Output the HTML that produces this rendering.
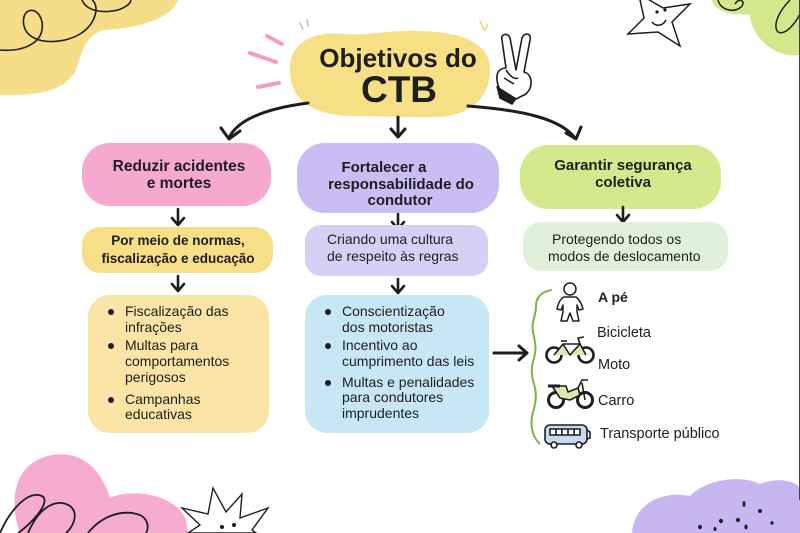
<!DOCTYPE html>
<html><head><meta charset="utf-8">
<style>
html,body{margin:0;padding:0;background:#fff;}
body{width:800px;height:533px;overflow:hidden;}
svg{display:block;}
text{font-family:"Liberation Sans","DejaVu Sans",sans-serif;fill:#1e1e1e;}
.b{font-weight:bold;}
</style></head>
<body>
<svg width="800" height="533" viewBox="0 0 800 533" xmlns="http://www.w3.org/2000/svg">
<!-- decorations top-left -->
<path d="M0,0 L178,0 C172,18 140,28 105,30 C85,34 82,52 76,70 C66,90 40,96 0,95 Z" fill="#f6dd8a"/>
<path d="M0,50 C25,52 45,42 42,22 C38,4 20,8 24,26 C28,44 60,46 80,34 C96,24 100,6 92,0 M82,0 C86,10 100,14 118,10 C130,6 132,0 130,0" fill="none" stroke="#1e1e1e" stroke-width="1.6"/>
<!-- top-right -->
<path d="M712,0 L770,0 C768,12 752,16 735,14 C720,12 712,6 712,0 Z" fill="#d3e88b"/>
<path d="M752,0 L800,0 L800,55 C780,58 760,45 752,25 C748,12 750,4 752,0 Z" fill="#d3e88b"/>
<path d="M718,0 C720,10 735,14 742,6 C746,0 738,-2 735,4 M790,0 C780,10 772,25 778,32 C786,36 796,22 800,14" fill="none" stroke="#1e1e1e" stroke-width="1.5"/>
<path d="M640,0 L646,-2 L663,8 L690,4 L672,22 L680,46 L658,32 L628,34 L644,18 Z" fill="#fff" stroke="#1e1e1e" stroke-width="1.5"/>
<circle cx="657" cy="12" r="1.6" fill="#1e1e1e"/><circle cx="665" cy="10" r="1.6" fill="#1e1e1e"/>
<path d="M652,22 C656,27 663,26 666,20" fill="none" stroke="#1e1e1e" stroke-width="1.5"/>
<!-- bottom-left -->
<path d="M20,533 C8,500 14,462 52,455 C84,450 102,472 110,498 C132,488 176,494 186,520 L188,533 Z" fill="#f6acd0"/>
<path d="M0,533 C10,510 28,490 42,496 C52,502 30,525 18,533 M28,533 C40,505 58,498 70,506 C80,514 72,528 66,533 M88,533 C100,518 120,508 140,515 C150,520 148,530 146,533" fill="none" stroke="#1e1e1e" stroke-width="1.8"/>
<path d="M182,508 L208,514 L213,488 L226,512 L242,494 L240,518 L268,508 L252,530 L256,533 L188,533 L200,525 Z" fill="#fff" stroke="#1e1e1e" stroke-width="1.4"/>
<circle cx="222" cy="527" r="2" fill="#1e1e1e"/><circle cx="234" cy="525" r="2" fill="#1e1e1e"/>
<!-- bottom-right -->
<path d="M632,533 C634,505 660,490 690,496 C705,480 740,474 760,484 C780,476 800,482 800,490 L800,533 Z" fill="#c8b6f0"/>
<g fill="#1e1e1e"><ellipse cx="744" cy="504" rx="1.5" ry="3"/><ellipse cx="760" cy="511" rx="2" ry="2"/><ellipse cx="738" cy="520" rx="2" ry="2"/><ellipse cx="721" cy="521" rx="2" ry="2.2"/><ellipse cx="746" cy="527" rx="1.6" ry="2.5"/><ellipse cx="700" cy="527" rx="2" ry="2"/><ellipse cx="715" cy="529" rx="1.5" ry="2"/><ellipse cx="772" cy="523" rx="1.6" ry="1.8"/></g>
<!-- right edge line -->
<line x1="799.5" y1="0" x2="799.5" y2="500" stroke="#444" stroke-width="1"/>

<!-- title -->
<path d="M290,72 C288,45 310,30 345,34 C370,36 385,30 420,31 C460,32 492,42 490,72 C488,100 470,116 435,117 C405,118 380,116 350,116 C310,114 292,100 290,72 Z" fill="#f7df85"/>
<g stroke-linecap="round" stroke-width="4">
<line x1="267" y1="36" x2="282" y2="44" stroke="#f59cc6"/>
<line x1="250" y1="53" x2="276" y2="62" stroke="#f59cc6"/>
<line x1="258" y1="87" x2="279" y2="83" stroke="#f59cc6"/>
</g>
<g stroke-linecap="round" stroke-width="1.5">
<line x1="300" y1="23" x2="303" y2="29" stroke="#b8b8e8"/><line x1="307" y1="20" x2="308" y2="26" stroke="#b8b8e8"/>
<line x1="480" y1="21" x2="484" y2="30" stroke="#f2d36c"/><line x1="488" y1="24" x2="485" y2="30" stroke="#f2d36c"/>
</g>
<!-- peace hand -->
<g fill="#fff" stroke="#1e1e1e" stroke-width="1.6" stroke-linejoin="round">
<path d="M502,40 C500,34 508,32 510,38 L516,70 L522,38 C524,32 532,33 530,40 L524,72 C532,74 534,86 526,94 L514,100 C504,98 498,90 497,80 C496,72 500,68 506,68 Z"/>
<path d="M497,86 L500,98 L512,104 L516,98" fill="#1e1e1e"/>
<path d="M506,70 C510,76 514,80 518,78 M504,78 L514,84" fill="none"/>
</g>
<text x="398" y="67" text-anchor="middle" class="b" font-size="26">Objetivos do</text>
<text x="399" y="102" text-anchor="middle" class="b" font-size="37">CTB</text>

<!-- connectors from title -->
<g fill="none" stroke="#1e1e1e" stroke-width="3" stroke-linecap="round" stroke-linejoin="round">
<path d="M308,103 C270,108 238,118 229,138"/>
<path d="M221,128 L229,139 L240,131"/>
<path d="M398,117 L398,136"/>
<path d="M391,129 L398,137 L405,129"/>
<path d="M468,106 C520,110 560,118 575,138"/>
<path d="M566,133 L576,139 L581,127"/>
</g>

<!-- row 1 -->
<rect x="82" y="143" width="189" height="63" rx="28" fill="#f6a9cf"/>
<rect x="297" y="143" width="202" height="70" rx="28" fill="#c9bdf4"/>
<rect x="520" y="145" width="201" height="64" rx="28" fill="#d4e98c"/>
<text x="179" y="171" text-anchor="middle" class="b" font-size="15.5">Reduzir acidentes</text>
<text x="179" y="188" text-anchor="middle" class="b" font-size="15.5">e mortes</text>
<text x="384" y="172" text-anchor="middle" class="b" font-size="15">Fortalecer a</text>
<text x="401" y="189" text-anchor="middle" class="b" font-size="15">responsabilidade do</text>
<text x="400" y="205" text-anchor="middle" class="b" font-size="15">condutor</text>
<text x="623" y="170" text-anchor="middle" class="b" font-size="15">Garantir segurança</text>
<text x="623" y="187" text-anchor="middle" class="b" font-size="15">coletiva</text>

<!-- row1->row2 arrows -->
<g fill="none" stroke="#1e1e1e" stroke-width="2.6" stroke-linecap="round" stroke-linejoin="round">
<path d="M178,209 L178,224"/><path d="M172,218 L178,225 L184,218"/>
<path d="M398,214 L398,228"/><path d="M392,222 L398,229 L404,222"/>
<path d="M623,207 L623,221"/><path d="M617,215 L623,222 L629,215"/>
<path d="M178,276 L178,290"/><path d="M172,284 L178,291 L184,284"/>
<path d="M398,279 L398,292"/><path d="M392,286 L398,293 L404,286"/>
</g>

<!-- row 2 -->
<rect x="82" y="227" width="191" height="46" rx="18" fill="#f7df88"/>
<rect x="305" y="225" width="183" height="51" rx="16" fill="#d8cff6"/>
<rect x="523" y="222" width="205" height="49" rx="18" fill="#dff0db"/>
<text x="178" y="245" text-anchor="middle" class="b" font-size="13.5">Por meio de normas,</text>
<text x="178" y="263" text-anchor="middle" class="b" font-size="13.5">fiscalização e educação</text>
<text x="327" y="244" font-size="14">Criando uma cultura</text>
<text x="327" y="261" font-size="14">de respeito às regras</text>
<text x="552" y="244" font-size="14">Protegendo todos os</text>
<text x="548" y="261" font-size="14">modos de deslocamento</text>

<!-- row 3 -->
<rect x="88" y="295" width="181" height="138" rx="22" fill="#fae5a6"/>
<rect x="305" y="295" width="184" height="138" rx="22" fill="#c7e6f6"/>
<g fill="#1e1e1e">
<circle cx="111" cy="312" r="3"/><circle cx="111" cy="346" r="3"/><circle cx="111" cy="400" r="3"/>
<circle cx="328" cy="312" r="3"/><circle cx="328" cy="346" r="3"/><circle cx="328" cy="383" r="3"/>
</g>
<g font-size="14">
<text x="125" y="316">Fiscalização das</text>
<text x="125" y="332">infrações</text>
<text x="125" y="350">Multas para</text>
<text x="125" y="366">comportamentos</text>
<text x="125" y="382">perigosos</text>
<text x="125" y="404">Campanhas</text>
<text x="125" y="419">educativas</text>
<text x="342" y="316">Conscientização</text>
<text x="342" y="332">dos motoristas</text>
<text x="342" y="350">Incentivo ao</text>
<text x="342" y="366">cumprimento das leis</text>
<text x="342" y="387">Multas e penalidades</text>
<text x="342" y="402">para condutores</text>
<text x="342" y="418">imprudentes</text>
</g>

<!-- arrow to modes -->
<g fill="none" stroke="#1e1e1e" stroke-width="3" stroke-linecap="round" stroke-linejoin="round">
<path d="M494,353 L526,353"/><path d="M519,346 L527,353 L519,360"/>
</g>
<!-- brace -->
<path d="M552,290 C540,292 536,298 536,306 C536,316 531,322 533,332 C535,342 537,348 534,358 C531,368 531,374 534,384 C537,394 536,402 533,412 C530,422 531,436 540,444" fill="none" stroke="#7cb342" stroke-width="2"/>

<!-- person -->
<g fill="#fff" stroke="#1e1e1e" stroke-width="1.5" stroke-linejoin="round">
<circle cx="570" cy="289" r="6"/>
<path d="M564,297 L576,297 C580,300 582,305 583,309 L579,310 L577,305 L577,312 L579,321 L573,321 L570,313 L567,321 L561,321 L563,312 L563,305 L561,310 L557,309 C558,304 560,299 564,297 Z"/>
</g>
<!-- bicycle -->
<g fill="none" stroke="#1e1e1e" stroke-width="2.6">
<circle cx="554" cy="355" r="7.5"/><circle cx="586" cy="355" r="7.5"/>
</g>
<g fill="#d8ecb0" stroke="#1e1e1e" stroke-width="1.6" stroke-linejoin="round">
<path d="M554,355 L563,344 L580,344 L586,355 M563,344 L570,355 L580,344" fill="#d8ecb0"/>
<path d="M561,341 L567,341 M580,344 L578,338 L584,337" fill="none"/>
</g>
<!-- moto -->
<g fill="none" stroke="#1e1e1e" stroke-width="3">
<circle cx="556" cy="400" r="7.5"/><circle cx="585" cy="400" r="7.5"/>
</g>
<g stroke="#1e1e1e" stroke-width="1.6" stroke-linejoin="round">
<path d="M552,386 L566,386 L568,392 L578,388 L580,395 L570,400 L560,398 Z" fill="#d8ecb0"/>
<path d="M578,388 L582,380 L588,380 M582,383 L585,400" fill="none"/>
<path d="M548,386 L560,386" stroke-width="3"/>
</g>
<!-- bus -->
<g stroke="#1e1e1e" stroke-width="1.6" stroke-linejoin="round">
<rect x="545" y="425" width="42" height="19" rx="5" fill="#c9d8f1"/>
<rect x="550" y="429" width="30" height="6" fill="#fff"/>
<path d="M556,429 V435 M562,429 V435 M568,429 V435 M574,429 V435" fill="none"/>
<path d="M587,430 L590,432 L590,438 L587,439" fill="none"/>
<circle cx="554" cy="445" r="3" fill="#fff"/><circle cx="579" cy="445" r="3" fill="#fff"/>
</g>
<g font-size="14.5">
<text x="598" y="302" class="b" font-size="14">A pé</text>
<text x="597" y="337">Bicicleta</text>
<text x="598" y="369">Moto</text>
<text x="598" y="405">Carro</text>
<text x="600" y="438">Transporte público</text>
</g>
</svg>
</body></html>
